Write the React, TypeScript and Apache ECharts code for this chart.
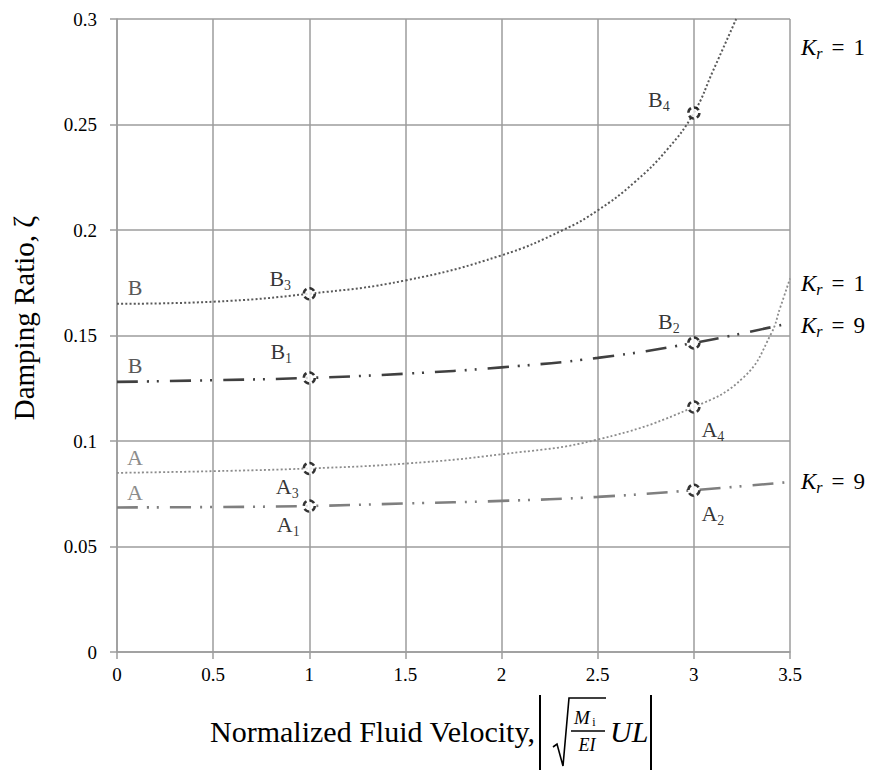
import React, { useEffect, useRef } from "react";
import * as echarts from "echarts";

// ---- data ----
const xTickLabels = ["0", "0.5", "1", "1.5", "2", "2.5", "3", "3.5"];
const yTickLabels = ["0", "0.05", "0.1", "0.15", "0.2", "0.25", "0.3"];

// B, Kr = 1 (dotted, dark)
const bK1X = [0, 0.5, 1, 1.5, 2, 2.32, 2.5, 2.69, 2.86, 3, 3.1, 3.22];
const bK1Y = [0.165, 0.166, 0.1698, 0.1761, 0.188, 0.2, 0.2093, 0.2225, 0.238, 0.2555, 0.2755, 0.3];
// B, Kr = 9 (dash-dot-dot, dark)
const bK9X = [0, 0.5, 1, 1.5, 2, 2.5, 3, 3.48];
const bK9Y = [0.128, 0.1288, 0.1299, 0.1319, 0.1349, 0.1394, 0.1465, 0.1555];
// A, Kr = 1 (dotted, light)
const aK1X = [0, 0.5, 1, 1.5, 2, 2.5, 3, 3.26, 3.4, 3.45, 3.5];
const aK1Y = [0.0849, 0.0857, 0.087, 0.0893, 0.0937, 0.1007, 0.1161, 0.1303, 0.1505, 0.1635, 0.177];
// A, Kr = 9 (dash-dot-dot, light)
const aK9X = [0, 0.5, 1, 1.5, 2, 2.5, 3, 3.5];
const aK9Y = [0.0685, 0.0687, 0.0692, 0.0704, 0.0716, 0.0735, 0.0767, 0.0806];

// marked points
const ptNames = ["B", "B", "A", "A", "B", "B", "A", "A"];
const ptSubs = ["3", "1", "3", "1", "4", "2", "4", "2"];
const ptX = [1, 1, 1, 1, 3, 3, 3, 3];
const ptY = [0.1698, 0.1299, 0.087, 0.0692, 0.2555, 0.1465, 0.1161, 0.0767];

// ---- styles (not data) ----
const ptLabelOffsets: [number, number][] = [
  [-29, -15], [-28, -26], [-22, 18], [-21, 19],
  [-35, -13], [-25, -21], [19, 22], [19, 23],
];

const SERIF = '"Liberation Serif", "Times New Roman", serif';
const GRID = "#9c9c9c";
const DARK = "#595959";
const DARKER = "#404040";
const LIGHT = "#8c8c8c";

const zip = (xs: number[], ys: number[]) => xs.map((x, i) => [x, ys[i]]);

const subRich = (color: string, size = 22, sub = 14) => ({
  m: { fontFamily: SERIF, fontSize: size, color, lineHeight: 28, verticalAlign: "middle" },
  s: { fontFamily: SERIF, fontSize: sub, color, lineHeight: 14, verticalAlign: "bottom" },
});

const krRich = (color: string) => ({
  k: { fontFamily: SERIF, fontStyle: "italic", fontSize: 23, color, lineHeight: 28, verticalAlign: "middle" },
  r: { fontFamily: SERIF, fontStyle: "italic", fontSize: 16, color, lineHeight: 14, verticalAlign: "bottom" },
  e: { fontFamily: SERIF, fontSize: 23, color, lineHeight: 28, verticalAlign: "middle", padding: [0, 9, 0, 9] },
  n: { fontFamily: SERIF, fontSize: 23, color, lineHeight: 28, verticalAlign: "middle" },
});

const krText = (x: number, y: number, val: string, color: string) => ({
  type: "text",
  x,
  y,
  silent: true,
  style: {
    text: `{k|K}{r|r}{e|=}{n|${val}}`,
    rich: krRich(color),
    align: "left",
    verticalAlign: "middle",
  },
});

const plainText = (x: number, y: number, text: string, color: string, font: string, extra: any = {}) => ({
  type: "text",
  x,
  y,
  silent: true,
  ...extra,
  style: { text, fill: color, font, align: "center", verticalAlign: "middle", ...(extra.style || {}) },
});

export default function App() {
  const ref = useRef<HTMLDivElement>(null);
  useEffect(() => {
    const chart = echarts.init(ref.current!, null, { renderer: "svg" });
    const lineBase = { type: "line", showSymbol: false, symbol: "none", smooth: 0.45, silent: true, clip: true };
    const option: any = {
      animation: false,
      backgroundColor: "#fff",
      grid: { left: 117, top: 19, width: 673, height: 633, containLabel: false },
      xAxis: {
        type: "value",
        min: 0,
        max: 3.5,
        interval: 0.5,
        axisLine: { show: true, lineStyle: { color: GRID, width: 1.5 } },
        axisTick: { show: true, length: 7, lineStyle: { color: GRID, width: 1.5 } },
        splitLine: { show: true, lineStyle: { color: GRID, width: 1.5 } },
        axisLabel: {
          margin: 13,
          fontFamily: SERIF,
          fontSize: 19,
          color: "#000",
          formatter: (v: number) => xTickLabels[Math.round(v / 0.5)] ?? String(v),
        },
      },
      yAxis: {
        type: "value",
        min: 0,
        max: 0.3,
        interval: 0.05,
        axisLine: { show: true, lineStyle: { color: GRID, width: 1.5 } },
        axisTick: { show: true, length: 7, lineStyle: { color: GRID, width: 1.5 } },
        splitLine: { show: true, lineStyle: { color: GRID, width: 1.5 } },
        axisLabel: {
          margin: 20,
          fontFamily: SERIF,
          fontSize: 19,
          color: "#000",
          formatter: (v: number) => yTickLabels[Math.round(v / 0.05)] ?? String(v),
        },
      },
      series: [
        {
          ...lineBase,
          name: "B Kr=1",
          data: zip(bK1X, bK1Y),
          lineStyle: { color: DARK, width: 2, type: [2, 2.2], cap: "butt" },
          z: 3,
        },
        {
          ...lineBase,
          name: "B Kr=9",
          data: zip(bK9X, bK9Y),
          lineStyle: { color: DARKER, width: 2.6, type: [21, 9, 2, 8, 2, 11], cap: "butt" },
          z: 3,
        },
        {
          ...lineBase,
          name: "A Kr=1",
          data: zip(aK1X, aK1Y),
          lineStyle: { color: LIGHT, width: 1.8, type: [2, 2.2], cap: "butt" },
          z: 3,
        },
        {
          ...lineBase,
          name: "A Kr=9",
          data: zip(aK9X, aK9Y),
          lineStyle: { color: "#7f7f7f", width: 2.6, type: [21, 9, 2, 8, 2, 11], cap: "butt" },
          z: 3,
        },
        {
          type: "scatter",
          name: "points",
          silent: true,
          symbol: "circle",
          symbolSize: 11,
          z: 5,
          itemStyle: { color: "#fff", borderColor: "#000", borderWidth: 2.5, borderType: [5.5, 3.1] },
          data: ptX.map((x, i) => ({
            value: [x, ptY[i]],
            label: {
              show: true,
              position: "inside",
              offset: ptLabelOffsets[i],
              formatter: `{m|${ptNames[i]}}{s|${ptSubs[i]}}`,
              rich: subRich("#000"),
            },
          })),
        },
      ],
      graphic: [
        // left curve letters
        plainText(135, 287, "B", DARK, `22px ${SERIF}`),
        plainText(135, 365, "B", DARK, `22px ${SERIF}`),
        plainText(135, 457, "A", LIGHT, `22px ${SERIF}`),
        plainText(135, 492, "A", LIGHT, `22px ${SERIF}`),
        // right Kr labels
        krText(801, 47, "1", DARK),
        krText(801, 283, "1", LIGHT),
        krText(801, 325, "9", DARKER),
        krText(801, 481, "9", LIGHT),
        // y axis title
        plainText(24, 318, "Damping Ratio, ζ", "#000", `29px ${SERIF}`, { rotation: Math.PI / 2 }),
        // x axis title
        {
          type: "text",
          x: 535,
          y: 731,
          silent: true,
          style: { text: "Normalized Fluid Velocity,", fill: "#000", font: `30px ${SERIF}`, align: "right", verticalAlign: "middle" },
        },
        { type: "line", silent: true, shape: { x1: 540, y1: 695, x2: 540, y2: 770 }, style: { stroke: "#000", lineWidth: 2 } },
        {
          type: "polyline",
          silent: true,
          shape: { points: [[553, 747], [557, 744], [563, 766], [569, 698], [606, 698]] },
          style: { stroke: "#000", lineWidth: 1.6, fill: null },
        },
        plainText(582, 717, "M", "#000", `italic 19px ${SERIF}`),
        plainText(594, 722, "i", "#000", `12px ${SERIF}`),
        { type: "line", silent: true, shape: { x1: 571, y1: 731, x2: 605, y2: 731 }, style: { stroke: "#000", lineWidth: 1.3 } },
        plainText(587, 745, "EI", "#000", `italic 18px ${SERIF}`),
        {
          type: "text",
          x: 610,
          y: 731,
          silent: true,
          style: { text: "UL", fill: "#000", font: `italic 30px ${SERIF}`, align: "left", verticalAlign: "middle" },
        },
        { type: "line", silent: true, shape: { x1: 651, y1: 695, x2: 651, y2: 770 }, style: { stroke: "#000", lineWidth: 2 } },
      ],
    };
    chart.setOption(option);
    return () => chart.dispose();
  }, []);
  return <div ref={ref} style={{ position: "absolute", left: 0, top: 0, width: 880, height: 770 }} />;
}
